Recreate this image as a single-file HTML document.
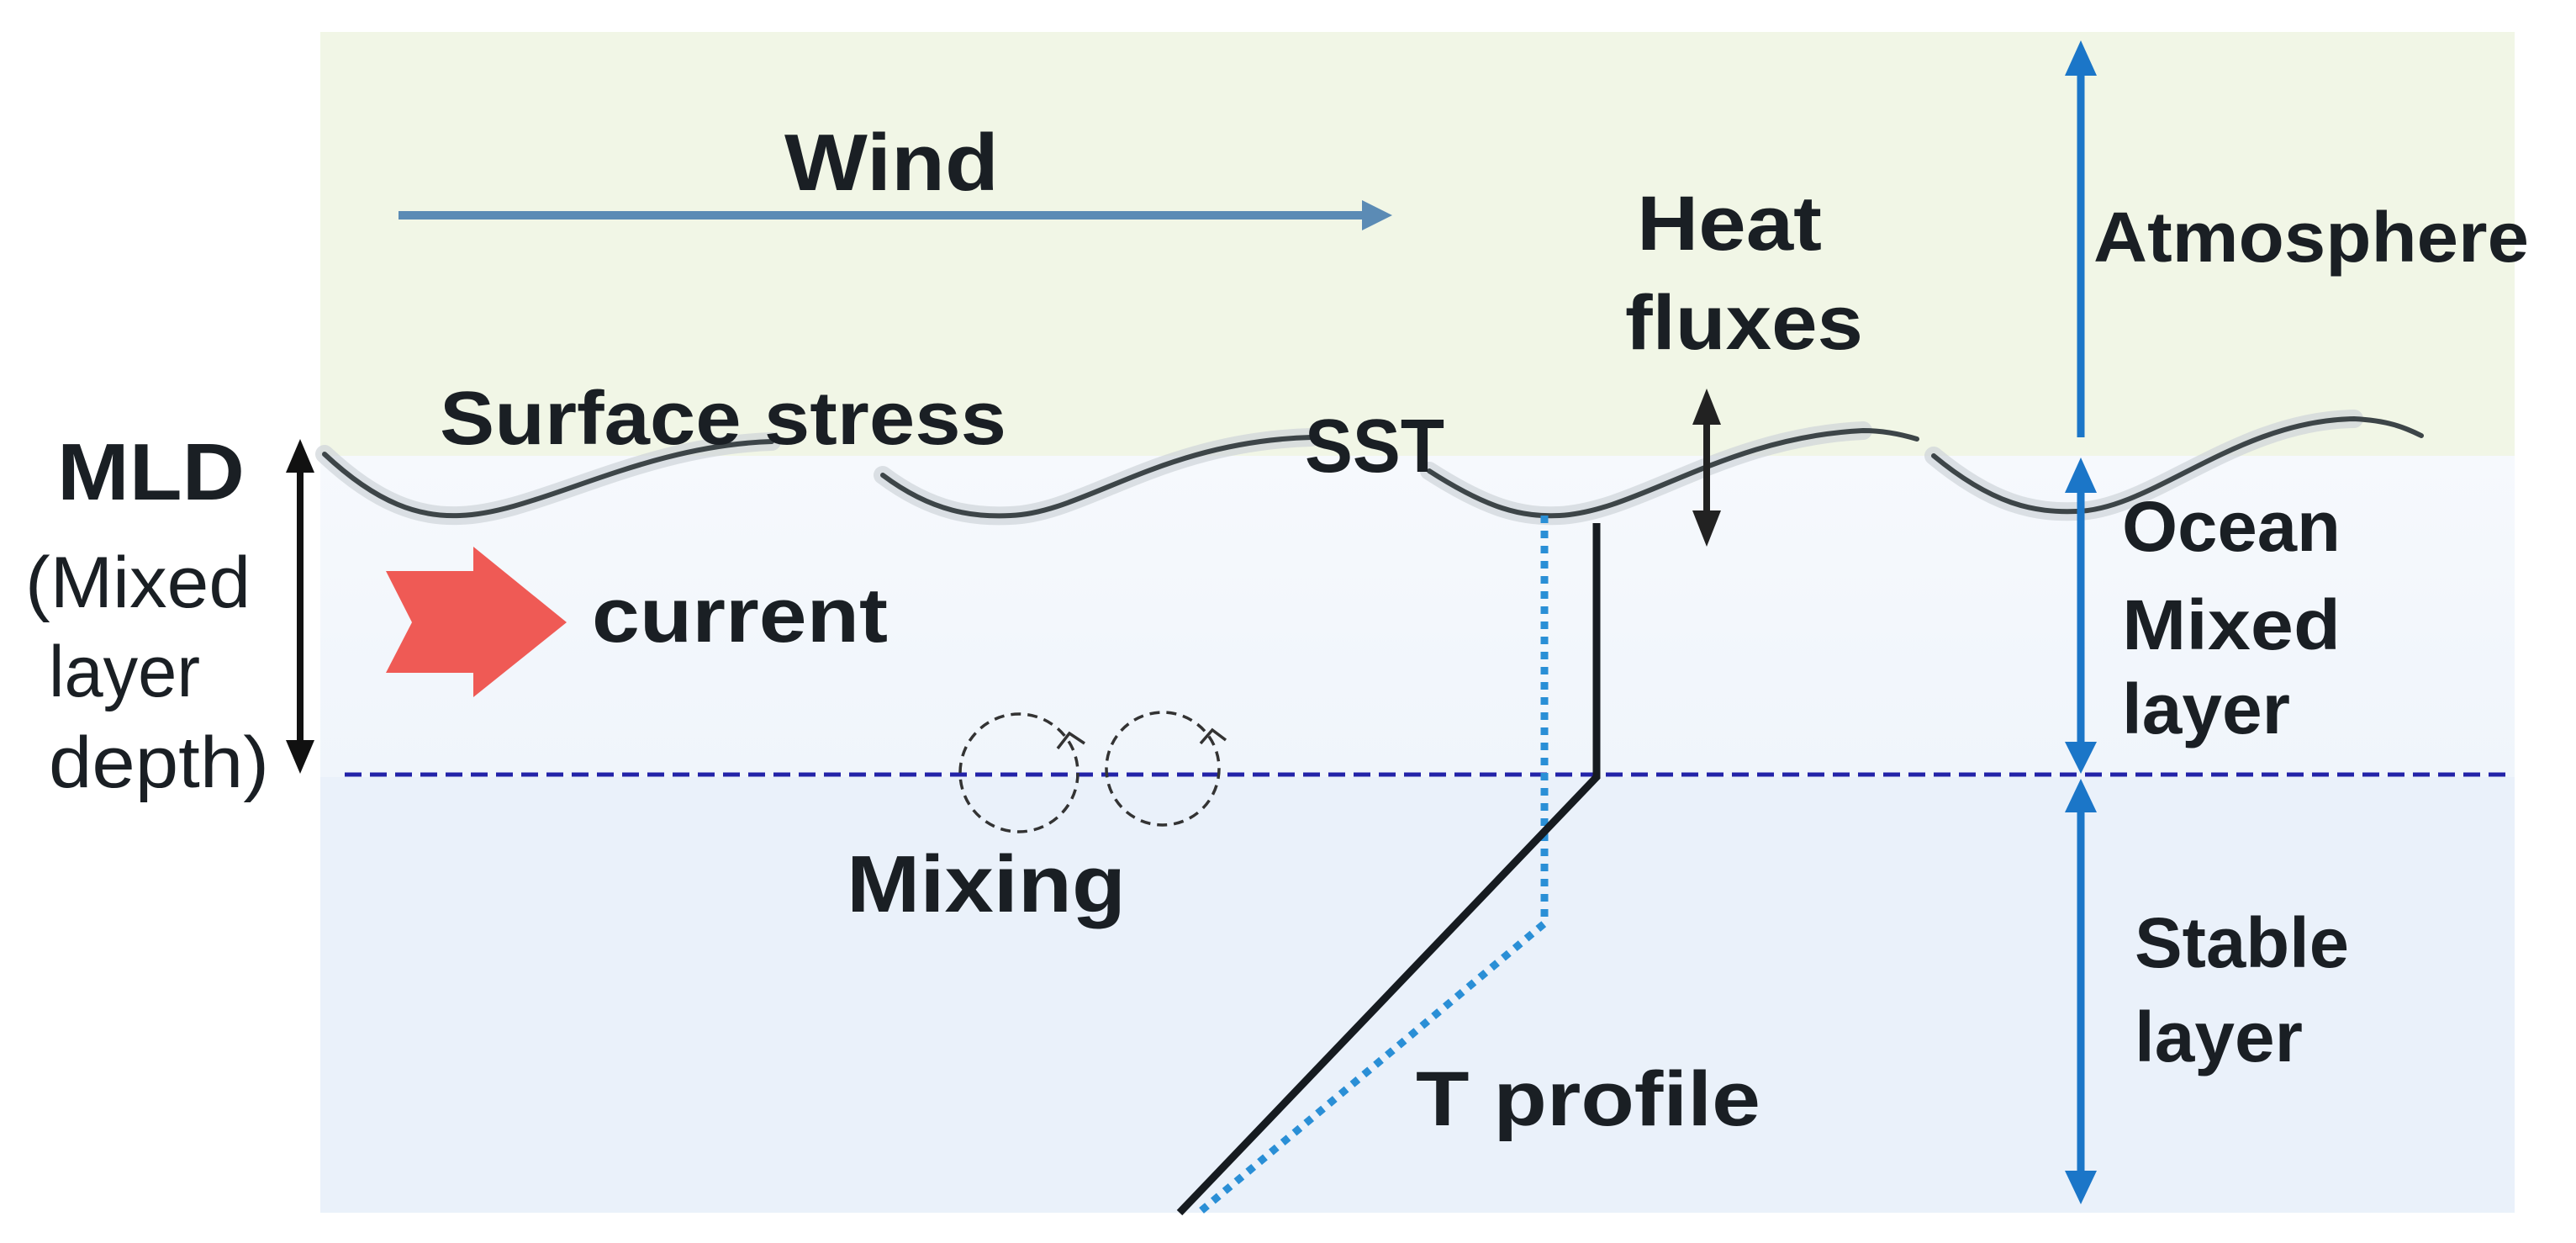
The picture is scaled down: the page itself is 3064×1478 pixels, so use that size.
<!DOCTYPE html>
<html><head><meta charset="utf-8"><style>
html,body{margin:0;padding:0;background:#fff;}
svg{display:block;}
text{font-family:"Liberation Sans",sans-serif;fill:#1a1f24;}
.b{font-weight:bold;}
</style></head><body>
<svg width="3064" height="1478" viewBox="0 0 3064 1478" xmlns="http://www.w3.org/2000/svg">
<defs>
<linearGradient id="oc" x1="0" y1="0" x2="0" y2="1">
<stop offset="0" stop-color="#f6f9fd"/><stop offset="1" stop-color="#f0f5fb"/></linearGradient>
</defs>
<rect x="381" y="38" width="2610" height="1404" fill="#eaf1fa"/>
<rect x="381" y="542" width="2610" height="382" fill="url(#oc)"/>
<rect x="381" y="38" width="2610" height="504" fill="#f1f6e6"/>
<!-- waves -->
<g fill="none" stroke-linecap="round">
<g stroke="#cfd4d8" stroke-width="22" opacity="0.7">
<path d="M386 540 C450 600 500 615 547 613 C640 610 760 530 918 525"/>
<path d="M1050 565 C1110 610 1160 615 1202 613 C1290 610 1380 525 1560 520"/>
<path d="M1700 560 C1770 605 1810 615 1855 613 C1950 608 2050 520 2216 512"/>
<path d="M2300 542 C2370 600 2420 610 2470 608 C2560 606 2660 500 2800 498"/>
</g>
<g stroke="#3d4548" stroke-width="6">
<path d="M386 540 C450 600 500 615 547 613 C640 610 760 530 918 525"/>
<path d="M1050 565 C1110 610 1160 615 1202 613 C1290 610 1380 525 1560 520"/>
<path d="M1700 560 C1770 605 1810 615 1855 613 C1950 608 2050 520 2216 512 C2240 512 2260 516 2280 522"/>
<path d="M2300 542 C2370 600 2420 610 2470 608 C2560 606 2660 500 2800 498 C2840 500 2860 508 2880 518"/>
</g>
</g>
<!-- dashed MLD line -->
<line x1="410" y1="921" x2="2985" y2="921" stroke="#2323a8" stroke-width="5" stroke-dasharray="20 10"/>
<!-- wind arrow -->
<line x1="474" y1="256" x2="1625" y2="256" stroke="#5b8bb5" stroke-width="10"/>
<polygon points="1620,238 1656,256 1620,274" fill="#5b8bb5"/>
<!-- blue vertical arrows -->
<g stroke="#1b76c8" stroke-width="9">
<line x1="2475" y1="80" x2="2475" y2="520"/>
<line x1="2475" y1="575" x2="2475" y2="895"/>
<line x1="2475" y1="955" x2="2475" y2="1400"/>
</g>
<g fill="#1b76c8">
<polygon points="2475,48 2456,90 2494,90"/>
<polygon points="2475,544 2456,586 2494,586"/>
<polygon points="2475,920 2456,882 2494,882"/>
<polygon points="2475,926 2456,966 2494,966"/>
<polygon points="2475,1432 2456,1392 2494,1392"/>
</g>
<!-- MLD black arrow -->
<line x1="357" y1="555" x2="357" y2="890" stroke="#111" stroke-width="8"/>
<polygon points="357,522 340,562 374,562" fill="#111"/>
<polygon points="357,920 340,880 374,880" fill="#111"/>
<!-- heat flux arrow -->
<line x1="2030" y1="490" x2="2030" y2="620" stroke="#222" stroke-width="8"/>
<polygon points="2030,462 2013,505 2047,505" fill="#222"/>
<polygon points="2030,650 2013,607 2047,607" fill="#222"/>
<!-- current arrow -->
<polygon points="459,679 563,679 563,650 674,740 563,829 563,800 459,800 490,740" fill="#ef5a55"/>
<!-- mixing circles -->
<g fill="none" stroke="#333" stroke-width="3.5" stroke-dasharray="12 8">
<circle cx="1212" cy="919" r="70"/>
<circle cx="1383" cy="914" r="67"/>
</g>
<g fill="none" stroke="#333" stroke-width="3.5">
<path d="M1258 890 L1272 872 L1290 884"/>
<path d="M1428 884 L1442 868 L1458 880"/>
</g>
<!-- T profile -->
<polyline points="1837,613 1837,1098 1426,1442" fill="none" stroke="#2a8fd6" stroke-width="9" stroke-dasharray="9 9"/>
<polyline points="1899,622 1899,924 1403,1442" fill="none" stroke="#161b20" stroke-width="9"/>
<!-- text -->
<text class="b" x="933" y="226" font-size="96" textLength="255" lengthAdjust="spacingAndGlyphs">Wind</text>
<text class="b" x="523" y="528" font-size="90" textLength="674" lengthAdjust="spacingAndGlyphs">Surface stress</text>
<text class="b" x="1552" y="561" font-size="90" textLength="166" lengthAdjust="spacingAndGlyphs">SST</text>
<text class="b" x="1947" y="297" font-size="92" textLength="220" lengthAdjust="spacingAndGlyphs">Heat</text>
<text class="b" x="1933" y="415" font-size="92" textLength="283" lengthAdjust="spacingAndGlyphs">fluxes</text>
<text class="b" x="2490" y="311" font-size="84" textLength="518" lengthAdjust="spacingAndGlyphs">Atmosphere</text>
<text class="b" x="2524" y="655" font-size="84" textLength="260" lengthAdjust="spacingAndGlyphs">Ocean</text>
<text class="b" x="2524" y="772" font-size="84" textLength="260" lengthAdjust="spacingAndGlyphs">Mixed</text>
<text class="b" x="2524" y="872" font-size="84" textLength="200" lengthAdjust="spacingAndGlyphs">layer</text>
<text class="b" x="2539" y="1150" font-size="84" textLength="255" lengthAdjust="spacingAndGlyphs">Stable</text>
<text class="b" x="2539" y="1262" font-size="84" textLength="200" lengthAdjust="spacingAndGlyphs">layer</text>
<text class="b" x="1684" y="1338" font-size="92" textLength="410" lengthAdjust="spacingAndGlyphs">T profile</text>
<text class="b" x="704" y="763" font-size="92" textLength="352" lengthAdjust="spacingAndGlyphs">current</text>
<text class="b" x="1007" y="1084" font-size="96" textLength="332" lengthAdjust="spacingAndGlyphs">Mixing</text>
<text class="b" x="68" y="594" font-size="96" textLength="223" lengthAdjust="spacingAndGlyphs">MLD</text>
<text x="30" y="722" font-size="86" textLength="268" lengthAdjust="spacingAndGlyphs">(Mixed</text>
<text x="58" y="828" font-size="86" textLength="180" lengthAdjust="spacingAndGlyphs">layer</text>
<text x="58" y="936" font-size="86" textLength="262" lengthAdjust="spacingAndGlyphs">depth)</text>
</svg>
</body></html>
